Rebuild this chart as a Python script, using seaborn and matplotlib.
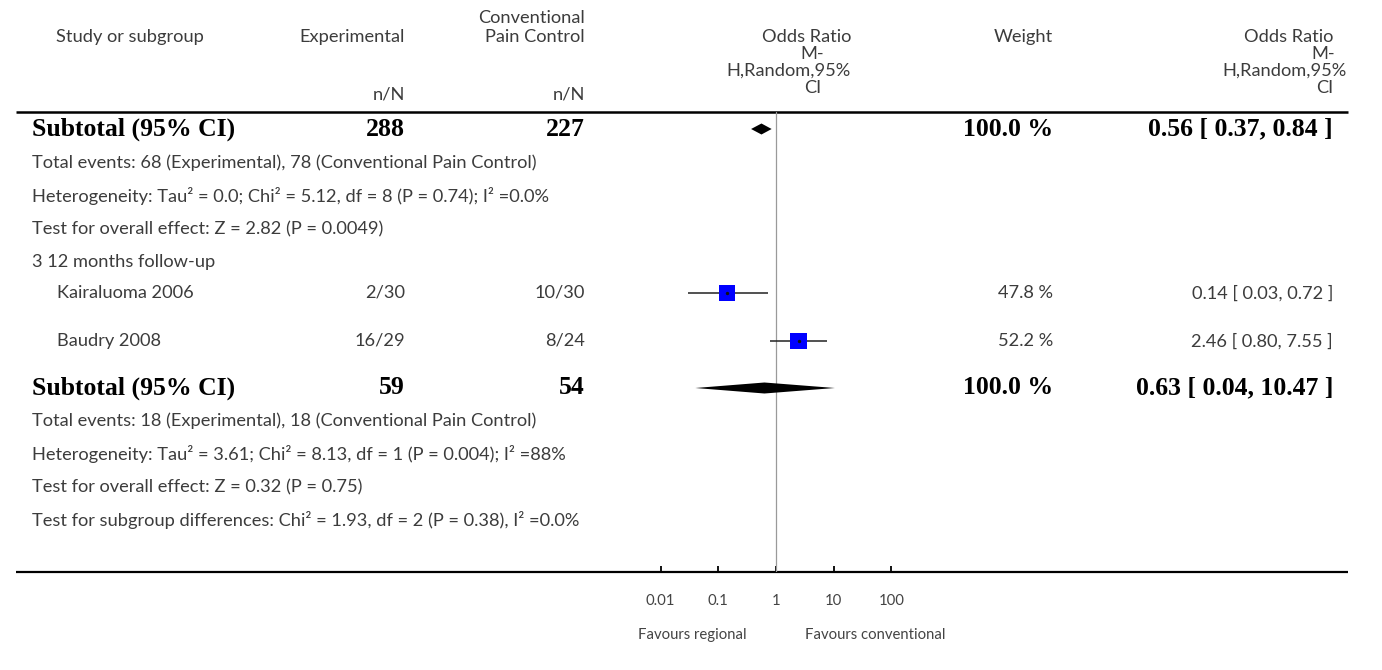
import numpy as np
import pandas as pd
import matplotlib
matplotlib.use("Agg")
import matplotlib.pyplot as plt
from matplotlib.ticker import NullLocator, FixedLocator, FixedFormatter
import seaborn as sns

# ---------------- data ----------------
studies = ["Kairaluoma 2006", "Baudry 2008"]
exp_events = ["2/30", "16/29"]
ctrl_events = ["10/30", "8/24"]
or_est = [0.14, 2.46]
or_lo = [0.03, 0.80]
or_hi = [0.72, 7.55]
weights = [47.8, 52.2]

sub_exp_n = [288, 59]
sub_ctrl_n = [227, 54]
sub_est = [0.56, 0.63]
sub_lo = [0.37, 0.04]
sub_hi = [0.84, 10.47]
sub_weight = [100.0, 100.0]
tot_exp_events = [68, 18]
tot_ctrl_events = [78, 18]
het_tau2 = ["0.0", "3.61"]
het_chi2 = ["5.12", "8.13"]
het_df = [8, 1]
het_p = ["0.74", "0.004"]
het_i2 = ["0.0%", "88%"]
overall_z = ["2.82", "0.32"]
overall_p = ["0.0049", "0.75"]
subgroup_name = "3 12 months follow-up"
diff_chi2, diff_df, diff_p, diff_i2 = "1.93", 2, "0.38", "0.0%"
tick_values = [0.01, 0.1, 1, 10, 100]
tick_labels = ["0.01", "0.1", "1", "10", "100"]
favours_left = "Favours regional"
favours_right = "Favours conventional"

# ---------------- style ----------------
sns.set_theme(style="white")
SANS = ["Lato", "DejaVu Sans"]
SERIF = ["Liberation Serif", "DejaVu Serif"]
plt.rcParams["font.family"] = SANS
GREY = "#3c3c3c"

W, H = 1382, 670
fig = plt.figure(figsize=(W / 100, H / 100), dpi=100)
fig.patch.set_facecolor("white")
bg = fig.add_axes([0, 0, 1, 1])
bg.set_xlim(0, W)
bg.set_ylim(H, 0)
bg.axis("off")

renderer = fig.canvas.get_renderer()


def fit_size(txt, target, **kw):
    t = fig.text(0, 0, txt, fontsize=10, **kw)
    w = t.get_window_extent(renderer=renderer).width
    t.remove()
    return 10 * target / w


FS = fit_size("Total events: 68 (Experimental), 78 (Conventional Pain Control)", 506, family=SANS)
FB = 0.5 * (fit_size("0.63 [ 0.04, 10.47 ]", 204, family=SERIF, weight="bold")
            + fit_size("Subtotal (95% CI)", 196, family=SERIF, weight="bold"))
FT = fit_size(favours_right, 140, family=SANS)


def T(x, y, s, ha="left", bold=False, size=None, color=None):
    if bold:
        bg.text(x, y, s, ha=ha, va="center", family=SERIF, weight="bold",
                fontsize=size or FB, color=color or "black")
    else:
        bg.text(x, y, s, ha=ha, va="center", family=SANS,
                fontsize=size or FS, color=color or GREY)


# ---------------- layout (pixel positions) ----------------
LX0, LX1 = 16, 1348
HEAD_LINE, BOT_LINE = 112, 572
X_TXT, X_STUDY, X_HEAD = 32, 57, 56
X_EXP, X_CTRL = 405, 585
X_W, X_OR = 1053, 1333
X_ONE, DECADE = 776, 57.7

ROW_SUB = [129, 388]
ROW_TOT = [163, 421]
ROW_HET = [196, 454]
ROW_TEST = [229, 487]
ROW_GRP = 262
ROW_STUDY = [293, 341]
ROW_DIFF = 520

# ---------------- header ----------------
T(X_HEAD, 37, "Study or subgroup")
T(X_EXP, 37, "Experimental", ha="right")
T(X_CTRL, 18, "Conventional", ha="right")
T(X_CTRL, 37, "Pain Control", ha="right")
T(X_EXP, 95, "n/N", ha="right")
T(X_CTRL, 95, "n/N", ha="right")
T(851, 37, "Odds Ratio", ha="right")
T(824, 54, "M-", ha="right")
T(851, 71, "H,Random,95%", ha="right")
T(821, 88, "CI", ha="right")
T(X_W, 37, "Weight", ha="right")
T(X_OR, 37, "Odds Ratio", ha="right")
T(1335, 54, "M-", ha="right")
T(1347, 71, "H,Random,95%", ha="right")
T(X_OR, 88, "CI", ha="right")

bg.plot([LX0, LX1], [HEAD_LINE, HEAD_LINE], color="black", lw=1.8, solid_capstyle="butt")
bg.plot([LX0, LX1], [BOT_LINE, BOT_LINE], color="black", lw=1.6, solid_capstyle="butt")

# ---------------- text rows ----------------
for i in range(2):
    y = ROW_SUB[i]
    T(X_TXT, y, "Subtotal (95% CI)", bold=True)
    T(X_EXP, y, f"{sub_exp_n[i]}", ha="right", bold=True)
    T(X_CTRL, y, f"{sub_ctrl_n[i]}", ha="right", bold=True)
    T(X_W, y, f"{sub_weight[i]:.1f} %", ha="right", bold=True)
    T(X_OR, y, f"{sub_est[i]:.2f} [ {sub_lo[i]:.2f}, {sub_hi[i]:.2f} ]", ha="right", bold=True)
    T(X_TXT, ROW_TOT[i], f"Total events: {tot_exp_events[i]} (Experimental), "
                         f"{tot_ctrl_events[i]} (Conventional Pain Control)")
    T(X_TXT, ROW_HET[i], f"Heterogeneity: Tau² = {het_tau2[i]}; Chi² = {het_chi2[i]}, "
                         f"df = {het_df[i]} (P = {het_p[i]}); I² ={het_i2[i]}")
    T(X_TXT, ROW_TEST[i], f"Test for overall effect: Z = {overall_z[i]} (P = {overall_p[i]})")

T(X_TXT, ROW_GRP, subgroup_name)
for i, name in enumerate(studies):
    y = ROW_STUDY[i]
    T(X_STUDY, y, name)
    T(X_EXP, y, exp_events[i], ha="right")
    T(X_CTRL, y, ctrl_events[i], ha="right")
    T(X_W, y, f"{weights[i]:.1f} %", ha="right")
    T(X_OR, y, f"{or_est[i]:.2f} [ {or_lo[i]:.2f}, {or_hi[i]:.2f} ]", ha="right")
T(X_TXT, ROW_DIFF, f"Test for subgroup differences: Chi² = {diff_chi2}, df = {diff_df} "
                   f"(P = {diff_p}), I² ={diff_i2}")

# ---------------- forest axes ----------------
ax_l = X_ONE - 3 * DECADE
ax_r = X_ONE + 3 * DECADE
axf = fig.add_axes([ax_l / W, 1 - BOT_LINE / H, (ax_r - ax_l) / W, (BOT_LINE - HEAD_LINE) / H])
axf.set_xscale("log")
axf.set_xlim(1e-3, 1e3)
axf.set_ylim(BOT_LINE, HEAD_LINE)
axf.patch.set_alpha(0)
for sp in axf.spines.values():
    sp.set_visible(False)
axf.set_yticks([])
axf.set_ylabel("")

axf.axvline(1, color="#9a9a9a", lw=0.9, zorder=1)

# CI lines
axf.hlines(ROW_STUDY, or_lo, or_hi, color="#222222", lw=1.1, zorder=2)

# squares sized by weight (area proportional to weight)
df = pd.DataFrame({"or": or_est, "y": ROW_STUDY, "w": weights})
s_max = (16.7 * 0.72) ** 2
sns.scatterplot(data=df, x="or", y="y", size="w",
                sizes=(s_max * min(weights) / max(weights), s_max),
                size_norm=(min(weights), max(weights)),
                marker="s", color="#0000ff", linewidth=0, legend=False,
                ax=axf, zorder=3)
axf.scatter(or_est, ROW_STUDY, s=2, color="#111111", zorder=4)

# diamonds for subtotals
for i in range(2):
    h = 5.5
    y = ROW_SUB[i]
    axf.fill([sub_lo[i], sub_est[i], sub_hi[i], sub_est[i]],
             [y, y - h, y, y + h], color="black", lw=0, zorder=3)

axf.set_ylim(BOT_LINE, HEAD_LINE)
axf.set_xlim(1e-3, 1e3)
axf.xaxis.set_major_locator(FixedLocator(tick_values))
axf.xaxis.set_major_formatter(FixedFormatter(tick_labels))
axf.xaxis.set_minor_locator(NullLocator())
axf.tick_params(axis="x", which="major", direction="in", length=4.5, width=1.3,
                color="black", labelcolor="#444444", labelsize=FT, pad=16, bottom=True)
for lab in axf.get_xticklabels():
    lab.set_family(SANS)
axf.set_xlabel("")

T(692, 635, favours_left, ha="center", size=FT, color="#444444")
T(805, 635, favours_right, ha="left", size=FT, color="#444444")

fig.savefig("out.png", dpi=100, facecolor="white")
